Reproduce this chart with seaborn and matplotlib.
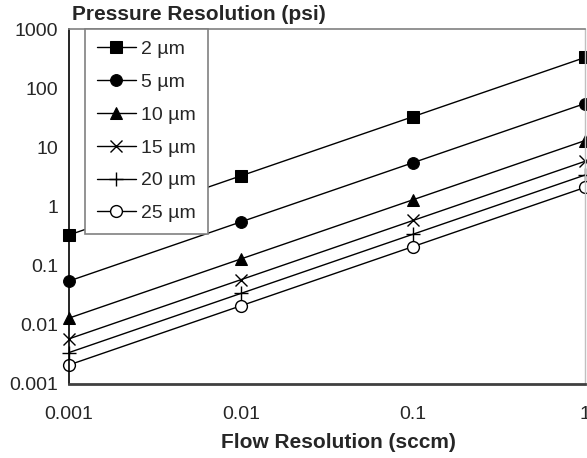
import matplotlib
matplotlib.use("Agg")
import matplotlib.pyplot as plt
import seaborn as sns
import pandas as pd

flow = [0.001, 0.01, 0.1, 1]
p_2um = [0.33, 3.3, 33, 330]
p_5um = [0.055, 0.55, 5.5, 55]
p_10um = [0.013, 0.13, 1.3, 13]
p_15um = [0.0058, 0.058, 0.58, 5.8]
p_20um = [0.0034, 0.034, 0.34, 3.4]
p_25um = [0.0021, 0.021, 0.21, 2.1]
labels = ["2 \u00b5m", "5 \u00b5m", "10 \u00b5m", "15 \u00b5m", "20 \u00b5m", "25 \u00b5m"]
series = [p_2um, p_5um, p_10um, p_15um, p_20um, p_25um]

sns.set_style("white")
plt.rcParams['font.family'] = ['Liberation Sans', 'DejaVu Sans']

fig = plt.figure(figsize=(5.87, 4.58), dpi=100)
ax = fig.add_axes([69/587, (458-384)/458, (585-69)/587, (384-29)/458])

styles = [
    dict(marker='s', markerfacecolor='black', markersize=8.5),
    dict(marker='o', markerfacecolor='black', markersize=8.5),
    dict(marker='^', markerfacecolor='black', markersize=8.5),
    dict(marker='x', markerfacecolor='black', markersize=8, markeredgewidth=1),
    dict(marker='+', markerfacecolor='black', markersize=10, markeredgewidth=1),
    dict(marker='o', markerfacecolor='white', markersize=8.5, markeredgewidth=1),
]

for lab, vals, st in zip(labels, series, styles):
    df = pd.DataFrame({"flow": flow, "p": vals})
    sns.lineplot(data=df, x="flow", y="p", ax=ax, color='black', linewidth=1,
                 markeredgecolor='black', label=lab, clip_on=False, **st)

ax.set_xscale('log')
ax.set_yscale('log')
ax.set_xlim(0.001, 1)
ax.set_ylim(0.001, 1000)
ax.set_xticks([0.001, 0.01, 0.1, 1])
ax.set_xticklabels(["0.001", "0.01", "0.1", "1"])
ax.set_yticks([0.001, 0.01, 0.1, 1, 10, 100, 1000])
ax.set_yticklabels(["0.001", "0.01", "0.1", "1", "10", "100", "1000"])
ax.minorticks_off()
ax.tick_params(axis='y', direction='out', length=6, width=1, color='black', labelsize=14, pad=2)
ax.tick_params(axis='x', direction='inout', length=10, width=1, color='black', labelsize=14, pad=11)

ax.spines['left'].set_color('black')
ax.spines['left'].set_linewidth(1.2)
ax.spines['bottom'].set_color('#404040')
ax.spines['bottom'].set_linewidth(2)
ax.spines['top'].set_color('#808080')
ax.spines['top'].set_linewidth(1.2)
ax.spines['right'].set_color('#c0c0c0')
ax.spines['right'].set_linewidth(1)

ax.set_xlabel("Flow Resolution (sccm)", fontsize=15, fontweight='bold')
ax.xaxis.set_label_coords((338-69)/516, -(442-384)/355, transform=ax.transAxes)
ax.xaxis.label.set_va('center')
ax.set_ylabel("")
fig.text(72/587, 1 - 14/458, "Pressure Resolution (psi)", fontsize=15, fontweight='bold',
         ha='left', va='center')

leg = ax.legend(loc='upper left', bbox_to_anchor=(85/587, 1 - 29/458),
                bbox_transform=fig.transFigure, fontsize=14, frameon=True,
                fancybox=False, framealpha=1, edgecolor='#808080',
                handlelength=2.0, handletextpad=0.3, labelspacing=0.78,
                borderpad=0.6, borderaxespad=0)
leg.get_frame().set_linewidth(1.2)

fig.savefig("out.png", dpi=100)
